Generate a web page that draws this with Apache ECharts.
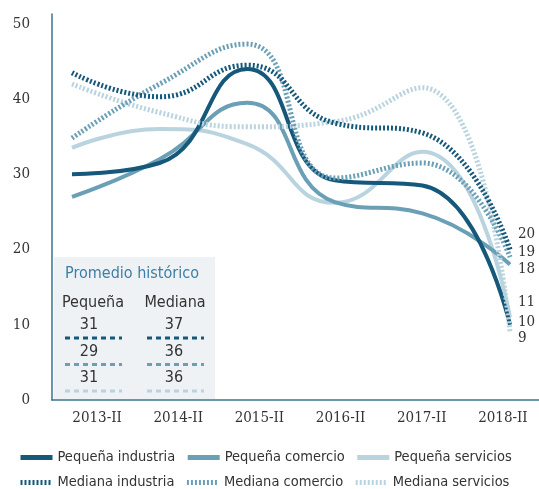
<!DOCTYPE html>
<html>
<head>
<meta charset="utf-8">
<title>Promedio histórico</title>
<script src="https://cdn.jsdelivr.net/npm/echarts@6/dist/echarts.min.js"></script>
<style>
  html, body { margin: 0; padding: 0; background: #fff; }
  #chart { width: 539px; height: 489px; }
</style>
</head>
<body>
<div id="chart"></div>
<script>
// datos
var categories = ['2013-II', '2014-II', '2015-II', '2016-II', '2017-II', '2018-II'];
var pequenaIndustria = [30, 31.5, 44, 29.2, 28.5, 10];
var pequenaComercio = [27, 32, 39.5, 26.3, 24.8, 18];
var pequenaServicios = [33.5, 36, 34, 26.2, 33, 11];
var medianaIndustria = [43.5, 40.3, 44.5, 36.8, 35.5, 20];
var medianaComercio = [34.8, 42, 47.3, 29.5, 31.5, 19];
var medianaServicios = [42, 38.2, 36.3, 37, 41.5, 9];
var yTicks = [0, 10, 20, 30, 40, 50];
// promedio histórico: industria, comercio, servicios
var promPequena = [31, 29, 31];
var promMediana = [37, 36, 36];

var cInd = '#15587a', cCom = '#6b9fb6', cSer = '#b9d4df';
var txt = '#333';
var fSans = '"DejaVu Sans Condensed", "Liberation Sans Narrow", sans-serif';
var fSerif = '"DejaVu Serif Condensed", "DejaVu Serif", serif';

var chart = echarts.init(document.getElementById('chart'));

function serie(name, data, color, dotted, dy) {
  return {
    name: name, type: 'line', xAxisIndex: 1, yAxisIndex: 1,
    data: data, smooth: 0.5, symbol: 'none',
    lineStyle: { color: color, width: dotted ? 5 : 4, type: dotted ? [2, 2] : 'solid', cap: 'butt' },
    itemStyle: { color: color },
    endLabel: {
      show: true, distance: 8, offset: [0, dy],
      formatter: function (p) { return p.value; },
      color: txt, fontSize: 15, fontFamily: fSerif
    },
    z: dotted ? 3 : 2
  };
}

// recuadro de promedios
var inset = [
  { type: 'rect', shape: { x: 54, y: 257, width: 161, height: 142 }, style: { fill: '#eef2f4' } },
  { type: 'text', style: { x: 132, y: 274, text: 'Promedio histórico', fill: '#3d7ea6', font: '16px ' + fSans, align: 'center', verticalAlign: 'middle' } },
  { type: 'text', style: { x: 93, y: 303, text: 'Pequeña', fill: txt, font: '16px ' + fSans, align: 'center', verticalAlign: 'middle' } },
  { type: 'text', style: { x: 175, y: 303, text: 'Mediana', fill: txt, font: '16px ' + fSans, align: 'center', verticalAlign: 'middle' } }
];
var pColors = [cInd, cCom, cSer];
promPequena.forEach(function (v, i) {
  var y = 325 + i * 26.5;
  inset.push({ type: 'text', style: { x: 89, y: y, text: String(v), fill: txt, font: '16px ' + fSans, align: 'center', verticalAlign: 'middle' } });
  inset.push({ type: 'text', style: { x: 174, y: y, text: String(promMediana[i]), fill: txt, font: '16px ' + fSans, align: 'center', verticalAlign: 'middle' } });
  inset.push({ type: 'line', shape: { x1: 65, y1: y + 13, x2: 122, y2: y + 13 }, style: { stroke: pColors[i], lineWidth: 3, lineDash: [5, 4] } });
  inset.push({ type: 'line', shape: { x1: 147, y1: y + 13, x2: 204, y2: y + 13 }, style: { stroke: pColors[i], lineWidth: 3, lineDash: [5, 4] } });
});

option = {
  animation: false,
  grid: [
    { left: 52, right: 0, top: 14, bottom: 89 },
    { left: 72, right: 29, top: 14, bottom: 89 }
  ],
  xAxis: [
    {
      type: 'category', gridIndex: 0, data: categories, boundaryGap: true,
      axisLine: { lineStyle: { color: '#3a7391', width: 1.5 } },
      axisTick: { show: false },
      axisLabel: { color: txt, fontSize: 15, fontFamily: fSerif, margin: 11, padding: [0, 0, 0, 9] }
    },
    { type: 'category', gridIndex: 1, data: categories, boundaryGap: false, show: false }
  ],
  yAxis: [
    {
      type: 'value', gridIndex: 0, min: 0, max: 51.3, interval: 10,
      axisLine: { show: true, lineStyle: { color: '#3a7391', width: 1.5 } },
      axisTick: { show: false }, splitLine: { show: false },
      axisLabel: {
        color: txt, fontSize: 15, fontFamily: fSerif, margin: 22,
        formatter: function (v) { return yTicks.indexOf(v) >= 0 ? v : ''; }
      }
    },
    { type: 'value', gridIndex: 1, min: 0, max: 51.3, show: false }
  ],
  legend: {
    left: 18, top: 450, width: 530, orient: 'horizontal', padding: 0,
    itemWidth: 32, itemHeight: 14, itemGap: 10,
    itemStyle: { opacity: 0 },
    lineStyle: { width: 5 },
    textStyle: { color: txt, fontSize: 14.5, fontFamily: fSans, width: 134, overflow: 'truncate' },
    data: ['Pequeña industria', 'Pequeña comercio', 'Pequeña servicios',
           'Mediana industria', 'Mediana comercio', 'Mediana servicios']
  },
  graphic: inset,
  series: [
    serie('Pequeña servicios', pequenaServicios, cSer, false, -15),
    serie('Mediana servicios', medianaServicios, cSer, true, 6),
    serie('Pequeña comercio', pequenaComercio, cCom, false, 5),
    serie('Mediana comercio', medianaComercio, cCom, true, -5),
    serie('Pequeña industria', pequenaIndustria, cInd, false, -3),
    serie('Mediana industria', medianaIndustria, cInd, true, -15)
  ]
};
chart.setOption(option);
</script>
</body>
</html>
